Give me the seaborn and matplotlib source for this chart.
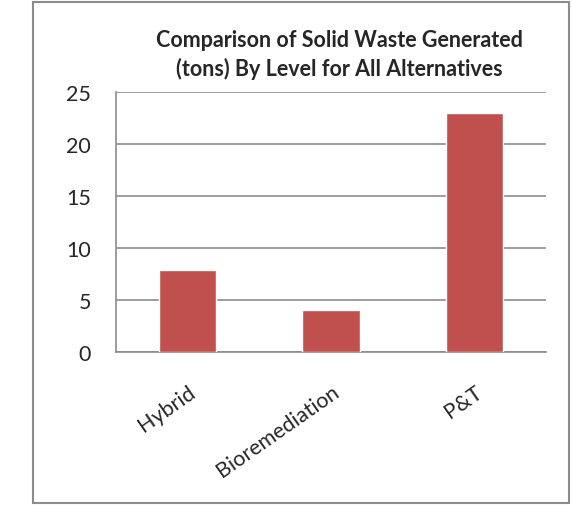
import numpy as np
import pandas as pd
import matplotlib as mpl
import matplotlib.pyplot as plt
import seaborn as sns

alternatives = ["Hybrid", "Bioremediation", "P&T"]
waste_tons = [7.9, 4.05, 23.0]

sns.set_style("white")
plt.rcParams['font.family'] = ['Lato', 'DejaVu Sans']

df = pd.DataFrame({"alternative": alternatives, "tons": waste_tons})

fig = plt.figure(figsize=(5.72, 5.06), dpi=100)
ax = fig.add_axes([0.2028, 0.3024, 0.7517, 0.5138])

sns.barplot(data=df, x="alternative", y="tons", color="#C0504D", saturation=1,
            width=0.4, ax=ax, zorder=3)

grid = "#8c8c8c"
ax.set_ylim(0, 25)
ax.set_yticks(range(0, 26, 5))
ax.yaxis.grid(True, color=grid, linewidth=1.2, zorder=0)
ax.set_axisbelow(True)
ax.set_xlim(-0.5, 2.5)
for s in ["top", "right"]:
    ax.spines[s].set_visible(False)
for s in ["left", "bottom"]:
    ax.spines[s].set_color(grid)
    ax.spines[s].set_linewidth(1.2)

# category boundary ticks on x
ax.set_xticks([-0.5, 0.5, 1.5, 2.5])
ax.set_xticklabels([])
ax.set_xticks([0, 1, 2], minor=True)
ax.set_xticklabels(alternatives, minor=True, rotation=35, ha="right", va="top",
                   fontsize=15.5, rotation_mode="anchor")
ax.tick_params(axis="x", which="major", length=6, color=grid, width=1.2, direction="out")
ax.tick_params(axis="x", which="minor", length=0, pad=21)
ax.tick_params(axis="y", length=7, color=grid, width=1.2, labelsize=15.5, pad=11)
ax.set_xlabel("")
ax.set_ylabel("")

fig.text(0.594, 0.891, "Comparison of Solid Waste Generated\n(tons) By Level for All Alternatives",
         ha="center", va="center", fontsize=15.5, fontweight="bold", linespacing=1.35)

border = mpl.patches.Rectangle((33 / 572, 1 - 504 / 506), (569 - 33) / 572, (504 - 3) / 506,
                               transform=fig.transFigure, fill=False, edgecolor="#8c8c8c",
                               linewidth=1.5)
fig.patches.append(border)

fig.savefig("out.png", dpi=100)
